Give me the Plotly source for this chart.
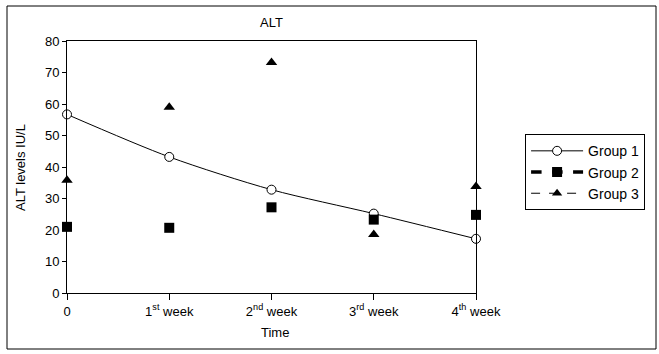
import plotly.graph_objects as go

categories = ["0", "1<sup>st</sup> week", "2<sup>nd</sup> week", "3<sup>rd</sup> week", "4<sup>th</sup> week"]
x_pos = [0, 1, 2, 3, 4]
group1 = [56.7, 43.2, 32.8, 25.2, 17.2]
group2 = [21.0, 20.7, 27.2, 23.3, 24.8]
group3 = [35.8, 59.0, 73.2, 18.6, 33.8]
y_ticks = [0, 10, 20, 30, 40, 50, 60, 70, 80]

FONT = "Liberation Sans, Arial, sans-serif"
fig = go.Figure()

fig.add_trace(go.Scatter(
    x=x_pos, y=group1, name="Group 1", mode="lines+markers",
    line=dict(color="black", width=1, shape="spline", smoothing=0.8),
    marker=dict(symbol="circle", size=9, color="white", line=dict(color="black", width=1)),
    cliponaxis=False,
))
# Group 2 & 3: markers only in plot, legend entry shows dashed line
fig.add_trace(go.Scatter(
    x=x_pos, y=group2, name="Group 2", mode="markers", showlegend=False,
    marker=dict(symbol="square", size=10, color="black"), cliponaxis=False,
))
fig.add_trace(go.Scatter(
    x=[None], y=[None], name="Group 2", mode="lines+markers",
    line=dict(color="black", width=3.5, dash="dash"),
    marker=dict(symbol="square", size=10, color="black"),
))
fig.add_trace(go.Scatter(
    x=x_pos, y=group3, name="Group 3", mode="markers", showlegend=False,
    marker=dict(symbol="triangle-up", size=10, color="black"), cliponaxis=False,
))
fig.add_trace(go.Scatter(
    x=[None], y=[None], name="Group 3", mode="lines+markers",
    line=dict(color="black", width=1, dash="dash"),
    marker=dict(symbol="triangle-up", size=9, color="black"),
))

fig.update_layout(
    width=659, height=354,
    margin=dict(l=67, r=183, t=41, b=61),
    paper_bgcolor="white", plot_bgcolor="white",
    font=dict(family=FONT, size=13, color="black"),
    showlegend=True,
    legend=dict(
        x=1.12, y=0.63, xanchor="left", yanchor="top",
        bordercolor="black", borderwidth=1, bgcolor="white",
        itemwidth=52, tracegroupgap=0,
        font=dict(family=FONT, size=14, color="black"),
    ),
    xaxis=dict(
        range=[0, 4], tickvals=x_pos, ticktext=categories,
        showgrid=False, zeroline=False,
        showline=True, linecolor="black", linewidth=1, mirror=True,
        ticks="outside", ticklen=6, tickcolor="black",
        tickfont=dict(family=FONT, size=13, color="black"),
    ),
    yaxis=dict(
        range=[0, 80], tickvals=y_ticks,
        showgrid=False, zeroline=False,
        showline=True, linecolor="black", linewidth=1, mirror=True,
        ticks="outside", ticklen=4, tickcolor="black",
        tickfont=dict(family=FONT, size=13, color="black"),
    ),
    annotations=[
        dict(text="ALT", xref="paper", yref="paper", x=0.5, y=(293 - 22) / 252,
             showarrow=False, xanchor="center", yanchor="middle",
             font=dict(family=FONT, size=13, color="black")),
        dict(text="Time", xref="paper", yref="paper", x=0.508, y=(293 - 333) / 252,
             showarrow=False, xanchor="center", yanchor="middle",
             font=dict(family=FONT, size=13, color="black")),
        dict(text="ALT levels IU/L", xref="paper", yref="paper", x=(20 - 67) / 409, y=0.496,
             showarrow=False, textangle=-90, xanchor="center", yanchor="middle",
             font=dict(family=FONT, size=13, color="black")),
    ],
    shapes=[
        dict(type="rect", xref="paper", yref="paper",
             x0=(7 - 67) / 409, x1=(656 - 67) / 409,
             y0=(293 - 349) / 252, y1=(293 - 6) / 252,
             line=dict(color="black", width=1), fillcolor="rgba(0,0,0,0)", layer="below"),
    ],
)

fig.write_html("out.html")
